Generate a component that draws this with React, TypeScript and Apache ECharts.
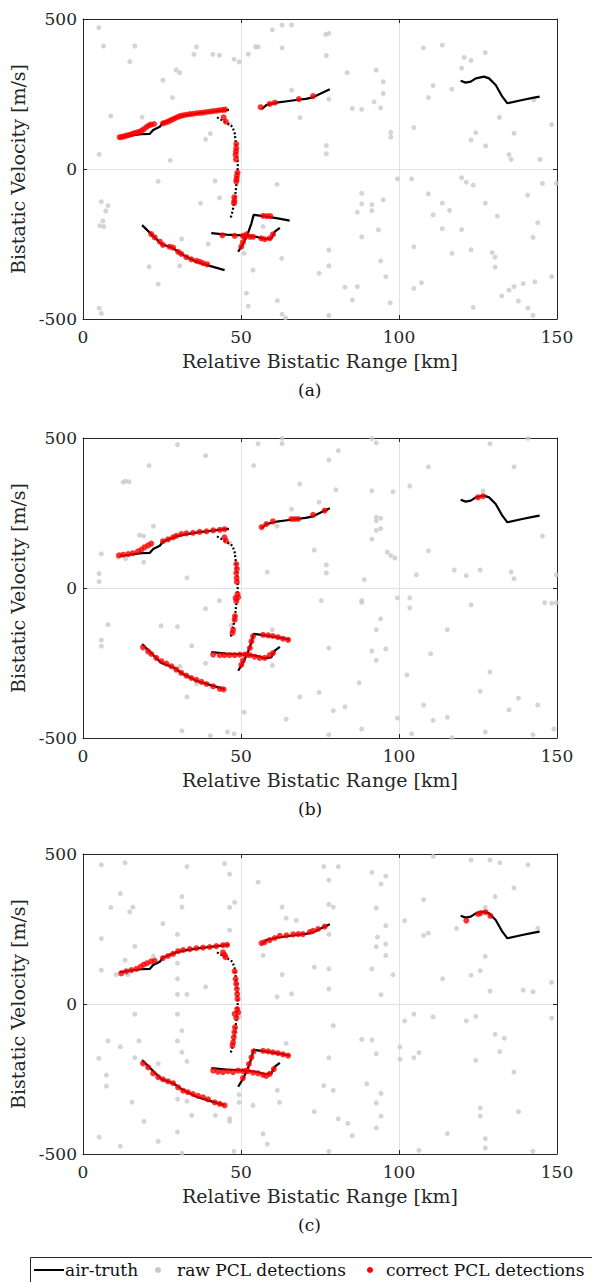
import React, { useEffect, useRef } from "react";
import * as echarts from "echarts";

const X_TICKS = [0, 50, 100, 150];
const Y_TICKS = [-500, 0, 500];
const PANEL_LABELS = ["(a)", "(b)", "(c)"];
const LEGEND_LABELS = ["air-truth", "raw PCL detections", "correct PCL detections"];
const X_NAME = "Relative Bistatic Range [km]";
const Y_NAME = "Bistatic Velocity [m/s]";

// air-truth tracks [range km, velocity m/s]
const TRACK_1 = [[11.6,106],[14,110],[16,113],[18.5,116],[21.1,117],[22.2,130],[24.3,141],[25.3,154],[27.5,164],[29.5,172],[32,178],[34.8,183],[37.5,187],[40.1,190],[43,194],[46.2,197]];
const TRACK_2 = [[42.4,172],[44.8,158],[47.3,141],[48,119],[48.5,74],[48.9,30],[49,8],[48.7,-37],[48.3,-75],[48,-103],[47.3,-142],[46.6,-168]];
const TRACK_3 = [[56.5,199],[58,213],[61.2,221],[64,225],[67.5,230],[70.5,234],[72.8,239],[74.9,250],[78.1,266]];
const TRACK_4 = [[119.5,294],[121.1,288],[122.7,291],[124.3,302],[126.9,308],[128.5,302],[130.6,280],[132.7,241],[134.3,219],[139,230],[142.7,238],[144.5,241]];
const TRACK_5 = [[18.7,-187],[21.6,-217],[24.8,-250],[28.5,-264],[31.7,-287],[35.9,-309],[40.1,-323],[44.8,-337]];
const TRACK_6 = [[40.6,-214],[45.4,-219],[50.6,-221],[54.9,-226],[57.5,-234],[59.6,-231],[60.7,-209],[62.3,-196]];
const TRACK_7 = [[49.1,-276],[50.7,-248],[52.2,-214],[53.3,-181],[54,-153],[57,-157],[61.2,-164],[65.4,-172]];
const TRACKS = [TRACK_1, TRACK_2, TRACK_3, TRACK_4, TRACK_5, TRACK_6, TRACK_7];

// raw PCL detections
const RAW_A = [[5.0,471],[6.5,410],[16.4,410],[14.8,358],[35.9,407],[35.1,382],[41.1,382],[43.2,379],[47.8,366],[49.4,357],[29.5,330],[30.6,321],[25.3,296],[28.3,238],[8.8,177],[18.7,173],[11.8,104],[38.8,99],[40.3,118],[46.4,150],[5.1,49],[27.6,29],[23.8,-41],[41.8,-40],[43.2,-96],[37.2,-114],[5.8,-109],[7.9,-122],[7.2,-140],[5.3,-189],[6.6,-192],[6.3,-173],[31.2,-233],[39.6,-250],[20.9,-326],[30.6,-323],[23.8,-384],[5.1,-464],[5.8,-481],
[52.3,383],[54.6,407],[55.4,407],[59.9,464],[63,480],[66,480],[63,404],[66,263],[61.4,-51],[57,-192],[51,-281],[53.8,-337],[51.7,-414],[52.3,-457],[62.9,-298],[61.5,-439],[63,-484],[64.1,-496],
[76.8,449],[77.8,452],[77,378],[77.8,233],[68.7,171],[77,78],[77,51],[83.6,321],[92.8,330],[95,291],[95,252],[92.1,224],[94.2,204],[85.2,202],[88.2,199],[97.4,122],[97.4,106],[99.5,-33],[104,-33],[88.2,-81],[88.2,-116],[86.8,-144],[91.4,-119],[91.4,-139],[95,-103],[93.5,-203],[88.2,-226],[77.8,-270],[77.8,-323],[74.7,-348],[82.9,-394],[86.8,-392],[85.2,-437],[94.2,-306],[95.8,-359],[97.2,-446],[77.8,-488],
[107.7,404],[113.7,413],[127.3,388],[120.6,372],[122.8,362],[119.8,336],[110.8,278],[109.3,238],[116.7,266],[104.7,138],[131.8,172],[124.3,121],[122.8,97],[127.4,77],[136.4,119],[134.8,48],[135.5,32],[144.6,32],[148.3,148],[142.7,230],
[119.8,-29],[121.3,-44],[123.5,-54],[109.3,-83],[113.7,-114],[116,-138],[110.8,-153],[113.7,-199],[119.8,-202],[127.3,-114],[131.1,-157],[140.7,-87],[145.4,-48],[149.8,-48],[143.9,-179],[142.4,-228],[104.7,-259],[116.8,-281],[122.8,-269],[129.5,-279],[130.4,-294],[130.4,-327],[107.1,-379],[104.7,-398],[132.5,-423],[134.8,-404],[136.4,-392],[139.3,-382],[143,-376],[137.8,-440],[140.8,-464],[142.4,-488],[123.5,-461],[148.3,-359]];

const RAW_B = [[29.9,478],[38.8,441],[20.9,408],[12.7,353],[13.5,356],[14.6,354],[22.3,206],[17.9,176],[19.2,173],[5.8,114],[11.1,103],[13.5,98],[19.2,86],[5.1,48],[5.1,21],[32.9,34],[46.4,150],[43.2,-42],[38.8,-69],[7.9,-122],[24.7,-126],[29.9,-129],[5.8,-174],[5.8,-194],[34.4,-193],[38.8,-251],[30.6,-261],[35.9,-319],[32.9,-363],[31.3,-476],[40.3,-492],[45.7,-480],[47.8,-486],[46.9,-124],[54,408],[55.4,481],[63,499],[63,481],[66,263],[61.4,206],[58.3,53],[59.9,-139],[59.9,-258],[51,-414],[64.3,-437],
[91.4,498],[92.8,484],[80.8,458],[77.8,427],[68.6,347],[80,327],[91.4,324],[98.1,321],[103.4,340],[74.7,286],[92.8,236],[92.8,224],[94.2,233],[92.8,192],[94.2,198],[91.4,163],[73.2,126],[77,77],[77,50],[89,28],[96.3,120],[97.4,108],[98.7,100],[105.5,44],[109.3,124],[109.3,404],[128.8,481],[136.4,404],[140.8,499],[126.6,324],[117.5,60],[121.3,41],[125.7,60],[135.5,53],[136.4,31],[145.4,173],[149.8,44],
[75.4,-42],[88.2,-42],[88.2,-48],[99.5,-33],[103.4,-33],[103.4,-66],[122.8,-56],[146.1,-49],[148.3,-51],[149.8,-49],[94.2,-103],[92.8,-139],[115.3,-139],[77.8,-200],[91.4,-210],[95.8,-203],[92.8,-241],[110,-219],[102.5,-290],[128.8,-280],[87.4,-316],[68.6,-363],[74.7,-348],[79.2,-409],[82.9,-396],[99.5,-434],[107.8,-390],[110.8,-441],[115.3,-431],[125.7,-344],[134.8,-406],[137.8,-367],[143.9,-390],[88.2,-470],[77.8,-489],[104,-486],[116.8,-499],[127.3,-480],[142.4,-489],[149,-470]];

const RAW_C = [[5.8,464],[13.3,471],[32.9,458],[44.8,468],[46.4,433],[11.8,368],[8.8,322],[15.8,323],[14.8,307],[31.3,358],[31.3,323],[25.3,268],[46.4,322],[48,339],[5.8,218],[29.9,232],[46.4,246],[16.4,192],[13.3,146],[22.3,159],[5.8,113],[10.5,98],[14.2,98],[29.9,136],[29.9,84],[29.9,32],[32.9,32],[38.8,57],[16.4,-34],[29.9,-34],[31.3,-89],[7.9,-123],[17.7,-123],[29.9,-123],[11.8,-143],[31.3,-161],[5,-181],[16.4,-179],[32.9,-191],[23.8,-199],[7.4,-237],[7.4,-274],[15.5,-327],[29.9,-317],[32.9,-324],[19.3,-391],[34.4,-371],[41.9,-371],[46.4,-382],[46.4,-391],[49.4,-328],[49.4,-302],[5.1,-444],[11.8,-474],[23.8,-458],[29.9,-427],[31.3,-498],[47.8,-491],[49.4,-42],
[55.4,406],[63,323],[64.3,286],[67.5,279],[57,162],[63,98],[61.4,24],[66,34],[64.3,-131],[61.5,-288],[62.2,-328],[53.8,-338],[57,-433],[58.3,-467],
[76.2,458],[80.8,458],[77.8,413],[77.8,332],[79.2,323],[91.4,439],[95.8,426],[94.3,400],[92.8,320],[95.8,261],[93.2,223],[92.8,191],[95.8,200],[95.8,162],[77.8,232],[73.2,123],[77.8,117],[91.4,117],[98.1,98],[77.8,50],[94.3,31],
[110.8,492],[122.8,480],[128.8,480],[131.9,471],[140.8,464],[136.4,387],[130.4,358],[107.8,348],[101.8,278],[127.3,322],[118.2,252],[107.8,229],[109.3,236],[143.9,252],[127.3,159],[122.8,96],[125.7,111],[113.8,84],[128.8,43],[139.3,46],[142.4,41],[148.3,72],
[148.3,-47],[101.8,-56],[104.7,-34],[110.8,-43],[121.3,-56],[124.3,-41],[79.2,-72],[88.2,-118],[91.4,-120],[92.8,-166],[77.8,-179],[100.3,-143],[100.3,-184],[104.7,-179],[106.3,-162],[130.4,-101],[133.3,-114],[131.9,-159],[124.3,-188],[136.4,-227],[76.2,-272],[79.2,-288],[89.8,-266],[94.3,-298],[92.8,-330],[73.2,-359],[94.3,-374],[80.8,-383],[83.8,-398],[85.2,-439],[92.8,-413],[125.7,-346],[125.7,-374],[137.8,-359],[115.3,-432],[127.3,-449],[127.3,-480],[77.8,-491],[106.3,-488],[142.4,-491]];

// correct PCL detections
const CORRECT_A = [[11.6,106],[12.3,107],[13.0,109],[13.7,111],[14.4,113],[15.1,115],[15.8,118],[16.5,120],[17.2,122],[17.9,124],[18.6,128],[19.3,133],[20.1,140],[20.8,145],[21.5,148],[22.5,150],[25.3,152],[26.1,155],[26.9,158],[27.7,162],[28.5,166],[29.3,170],[30.1,174],[30.9,177],[31.7,179],[32.7,181],[33.8,183],[34.8,184],[35.9,186],[37.0,187],[38.0,188],[39.0,190],[40.1,191],[41.1,193],[42.2,194],[43.2,196],[44.3,197],[45.0,198],
[44.5,172],[45.2,158],[48.5,83],[48.5,69],[48.4,58],[48.3,47],[48.4,32],[48.9,-12],[48.7,-23],[48.6,-34],[48.5,-42],[47.9,-94],[47.9,-106],[47.8,-114],
[56.2,206],[59.1,217],[60.7,221],[68.3,233],[72.8,243],
[21.6,-217],[22.7,-228],[24.3,-242],[25.3,-253],[27.4,-259],[28.5,-262],[30.1,-276],[31.1,-283],[32.7,-294],[34.3,-301],[35.9,-306],[36.9,-309],[38,-314],[39.3,-318],
[44.1,-221],[48.0,-223],[50.6,-223],[51.7,-218],[52.8,-226],[53.8,-226],[56.4,-231],[57.5,-234],[59.1,-231],[60.1,-218],
[50.1,-259],[50.6,-244],[51.2,-228],[57,-156],[58.2,-157],[59.3,-157]];

const CORRECT_B = [[11.4,109],[12.7,111],[14.3,113],[15.8,116],[17.4,122],[18.5,128],[19.5,136],[20.6,142],[21.6,148],[25.3,156],[26.9,162],[28.5,169],[29.5,174],[31.1,180],[32.7,182],[34.8,184],[36.9,187],[39.1,189],[41.2,192],[43.3,194],[44.8,196],
[44.8,169],[45.2,158],[48.5,80],[48.7,64],[48.5,50],[48.6,33],[48.7,20],[48.9,-20],[49.1,-31],[48.3,-33],[48.5,-44],[48.1,-94],[48.0,-106],[47.5,-139],[47.3,-150],
[56.5,203],[58,213],[60.1,222],[65.9,230],[67,230],[68.1,230],[72.8,244],[76.5,258],
[19,-198],[20.6,-211],[21.6,-220],[23.2,-233],[24.8,-244],[26.4,-252],[28,-261],[29.5,-272],[31.1,-283],[32.7,-292],[34.3,-300],[35.9,-306],[37.5,-313],[39.1,-320],[41.2,-328],[43.3,-336],[44.5,-338],
[41.2,-222],[43.3,-224],[44.8,-224],[46.4,-224],[48,-224],[49.6,-222],[51.2,-222],[52.8,-224],[54.3,-229],[55.9,-233],[57.5,-233],[59.1,-224],[60.1,-217],
[50.1,-256],[50.6,-242],[51.9,-222],[52.8,-200],[53.3,-178],[53.8,-161],[57,-156],[58.6,-158],[60.1,-160],[61.7,-164],[63.3,-169],[64.9,-173],
[125,302],[126.6,306]];

const CORRECT_C = [[12.1,102],[13.7,109],[15.3,113],[16.9,117],[18.2,124],[19.2,131],[20.3,136],[21.6,142],[22.7,144],[25.3,153],[26.9,160],[28.5,167],[30.1,176],[31.7,180],[33.8,183],[35.9,186],[38,188],[40.1,190],[42.2,193],[44.3,196],[45.6,197],
[44.3,172],[44.8,164],[45.1,156],[48,109],[48.3,83],[48.5,67],[48.7,50],[48.8,33],[48.9,17],[48.8,-17],[49.1,-28],[48,-33],[48.5,-47],[48.1,-78],[47.9,-94],[47.7,-111],[47.5,-128],[47.3,-139],
[56.5,203],[57.5,206],[59.1,213],[60.7,220],[62.3,227],[64.4,229],[66.5,232],[68.1,233],[69.6,233],[71.8,240],[72.8,244],[74.4,250],[76.5,258],
[19,-198],[20.6,-211],[22.2,-231],[23.8,-244],[25.3,-251],[26.9,-258],[28.5,-264],[30.1,-278],[31.7,-289],[33.2,-294],[34.8,-300],[36.4,-306],[38,-311],[39.6,-318],[41.7,-328],[43.3,-333],[44.8,-338],
[41.2,-222],[42.7,-226],[44.3,-227],[45.9,-224],[47.5,-227],[49.1,-222],[50.6,-224],[52.2,-224],[53.8,-229],[55.4,-231],[57,-236],[58,-240],[59.1,-233],[60.4,-217],
[50.6,-247],[51.7,-222],[52.5,-200],[53.3,-178],[54,-158],[57,-156],[58.6,-158],[60.1,-161],[61.7,-164],[63.3,-168],[64.9,-172],
[121.3,278],[125,300],[125.8,303],[127.4,306],[128.9,294]];

const RAW_SETS = [RAW_A, RAW_B, RAW_C];
const CORRECT_SETS = [CORRECT_A, CORRECT_B, CORRECT_C];

const FONT = "DejaVu Serif";
const INK = "#262626";
const GRID_TOPS = [19, 438, 854];
const GRID_LEFT = 83;
const GRID_W = 474;
const GRID_H = 300;

export default function App() {
  const ref = useRef<HTMLDivElement>(null);

  useEffect(() => {
    if (!ref.current) return;
    const chart = echarts.init(ref.current, null, { renderer: "svg" });

    const grids: any[] = [];
    const xAxes: any[] = [];
    const yAxes: any[] = [];
    const series: any[] = [];
    const graphics: any[] = [];

    GRID_TOPS.forEach((top, i) => {
      grids.push({ left: GRID_LEFT, top, width: GRID_W, height: GRID_H, containLabel: false });
      const common = {
        gridIndex: i,
        type: "value",
        axisLine: { show: true, onZero: false, lineStyle: { color: INK, width: 1 } },
        axisTick: { show: true, inside: true, length: 4, lineStyle: { color: INK } },
      };
      xAxes.push({
        ...common,
        position: "bottom",
        min: X_TICKS[0],
        max: X_TICKS[X_TICKS.length - 1],
        interval: X_TICKS[1] - X_TICKS[0],
        axisLabel: { color: INK, fontFamily: FONT, fontSize: 17, margin: 9 },
        splitLine: { show: true, lineStyle: { color: "#e2e2e2", width: 1 } },
        name: X_NAME,
        nameLocation: "middle",
        nameGap: 32,
        nameTextStyle: { color: INK, fontFamily: FONT, fontSize: 19 },
      });
      xAxes.push({
        ...common,
        position: "top",
        min: X_TICKS[0],
        max: X_TICKS[X_TICKS.length - 1],
        interval: X_TICKS[1] - X_TICKS[0],
        axisLabel: { show: false },
        splitLine: { show: false },
      });
      yAxes.push({
        ...common,
        position: "left",
        min: Y_TICKS[0],
        max: Y_TICKS[Y_TICKS.length - 1],
        interval: Y_TICKS[1] - Y_TICKS[0],
        axisLabel: { color: INK, fontFamily: FONT, fontSize: 17, margin: 6 },
        splitLine: { show: true, lineStyle: { color: "#e2e2e2", width: 1 } },
        name: Y_NAME,
        nameLocation: "middle",
        nameGap: 49,
        nameTextStyle: { color: INK, fontFamily: FONT, fontSize: 19 },
      });
      yAxes.push({
        ...common,
        position: "right",
        min: Y_TICKS[0],
        max: Y_TICKS[Y_TICKS.length - 1],
        interval: Y_TICKS[1] - Y_TICKS[0],
        axisLabel: { show: false },
        splitLine: { show: false },
      });

      series.push({
        name: LEGEND_LABELS[1],
        type: "scatter",
        xAxisIndex: 2 * i,
        yAxisIndex: 2 * i,
        data: RAW_SETS[i],
        symbol: "circle",
        symbolSize: 5,
        itemStyle: { color: "#c9c9c9" },
        z: 2,
      });
      TRACKS.forEach((tr, k) => {
        series.push({
          name: LEGEND_LABELS[0],
          type: "line",
          xAxisIndex: 2 * i,
          yAxisIndex: 2 * i,
          data: tr,
          showSymbol: false,
          symbol: "none",
          lineStyle: { color: "#000", width: 2.2, type: k === 1 ? [2, 2] : "solid" },
          z: 3,
        });
      });
      series.push({
        name: LEGEND_LABELS[2],
        type: "scatter",
        xAxisIndex: 2 * i,
        yAxisIndex: 2 * i,
        data: CORRECT_SETS[i],
        symbol: "circle",
        symbolSize: 6,
        itemStyle: { color: "#ff0000" },
        z: 4,
      });

      graphics.push({
        type: "text",
        left: 298,
        top: top + GRID_H + 62,
        style: { text: PANEL_LABELS[i], font: `17px '${FONT}'`, fill: "#111" },
      });
    });

    const ly = 1270;
    graphics.push(
      { type: "rect", shape: { x: 30.5, y: 1257.5, width: 600, height: 40 }, style: { fill: "#fff", stroke: INK, lineWidth: 1 } },
      { type: "line", shape: { x1: 34, y1: ly, x2: 64, y2: ly }, style: { stroke: "#000", lineWidth: 2 } },
      { type: "text", x: 65, y: ly, style: { text: LEGEND_LABELS[0], font: `17px '${FONT}'`, fill: "#111", verticalAlign: "middle" } },
      { type: "circle", shape: { cx: 158, cy: ly, r: 3 }, style: { fill: "#c9c9c9" } },
      { type: "text", x: 177, y: ly, style: { text: LEGEND_LABELS[1], font: `17px '${FONT}'`, fill: "#111", verticalAlign: "middle" } },
      { type: "circle", shape: { cx: 370, cy: ly, r: 3 }, style: { fill: "#ff0000" } },
      { type: "text", x: 386, y: ly, style: { text: LEGEND_LABELS[2], font: `17px '${FONT}'`, fill: "#111", verticalAlign: "middle" } }
    );

    chart.setOption({
      animation: false,
      backgroundColor: "#fff",
      grid: grids,
      xAxis: xAxes,
      yAxis: yAxes,
      series,
      graphic: graphics,
    });

    return () => chart.dispose();
  }, []);

  return (
    <div
      ref={ref}
      style={{ position: "fixed", left: 0, top: 0, width: 592, height: 1282, background: "#fff" }}
    />
  );
}
